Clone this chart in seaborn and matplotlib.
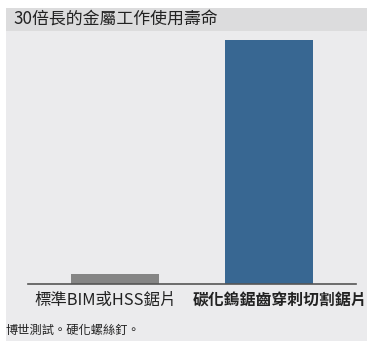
import matplotlib
matplotlib.use("Agg")
import matplotlib.pyplot as plt
import matplotlib.transforms as mtransforms
import seaborn as sns
from matplotlib.patches import Rectangle

# data
categories = ["標準BIM或HSS鋸片", "碳化鎢鋸齒穿刺切割鋸片"]
life_values = [1.2, 30]
bar_colors = ["#858585", "#386792"]
title_text = "30倍長的金屬工作使用壽命"
caption_text = "博世測試。硬化螺絲釘。"

sns.set_theme(style="white")
plt.rcParams['font.family'] = ['Noto Sans CJK TC', 'DejaVu Sans']

W, H = 367, 341
fig = plt.figure(figsize=(W / 100, H / 100), dpi=100, facecolor="white")

# panel background + title band
fig.patches.append(Rectangle((6 / W, 0), 1 - 6 / W, 1 - 8 / H, transform=fig.transFigure,
                             facecolor="#ebebed", edgecolor="none", zorder=-5))
fig.patches.append(Rectangle((6 / W, 1 - 31 / H), 1 - 6 / W, 23 / H, transform=fig.transFigure,
                             facecolor="#dcdcdd", edgecolor="none", zorder=-4))
fig.text(13 / W, 1 - 19.5 / H, title_text, fontsize=12.2, color="#222222", va="center", ha="left")
fig.text(5 / W, 1 - 330 / H, caption_text, fontsize=8.8, color="#222222", va="center", ha="left")

ax = fig.add_axes([28 / W, (H - 284) / H, (356 - 28) / W, (284 - 40) / H])
ax.set_facecolor("none")
sns.barplot(x=categories, y=life_values, hue=categories, palette=bar_colors,
            width=0.575, legend=False, ax=ax, saturation=1, linewidth=0, edgecolor="none")
ax.set_xlim(-0.57, 1.57)
ax.set_ylim(0, max(life_values))
ax.set_yticks([])
ax.set_xlabel("")
ax.set_ylabel("")
for s in ["top", "right", "left"]:
    ax.spines[s].set_visible(False)
ax.spines["bottom"].set_color("#555555")
ax.spines["bottom"].set_linewidth(1.2)
ax.spines["bottom"].set_zorder(5)
ax.tick_params(axis="x", length=0, pad=6)

# labels sit a little apart from the bar centres
shifts = [-10, 11]
for i, lab in enumerate(ax.get_xticklabels()):
    lab.set_fontsize(11.8 if i == 0 else 11.4)
    lab.set_color("#222222")
    if i == 1:
        lab.set_fontweight("bold")
    off = mtransforms.ScaledTranslation(shifts[i] / 100, 0, fig.dpi_scale_trans)
    lab.set_transform(lab.get_transform() + off)

fig.savefig("out.png", dpi=100)
